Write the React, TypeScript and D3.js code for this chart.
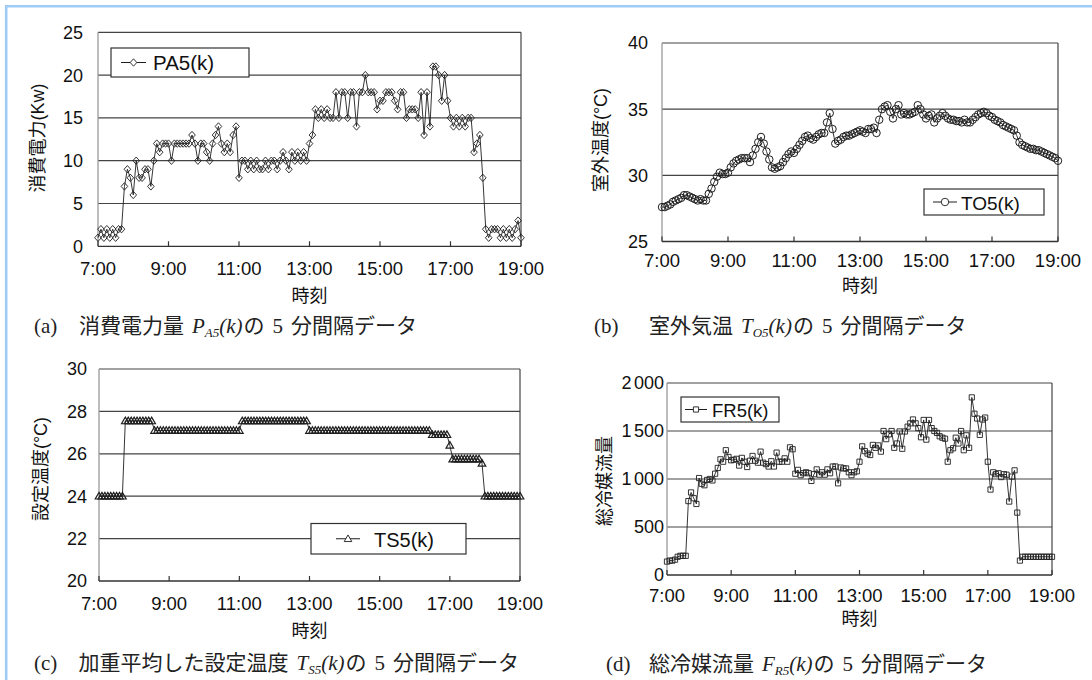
import React from 'react';
import * as d3 from 'd3';

// 5-minute samples, 7:00 .. 19:00 (145 points each)
const hourTicks = [7, 9, 11, 13, 15, 17, 19];

const pa5 = [
  1, 2, 1, 2, 1, 2, 1, 2, 2, 7, 9, 8,
  6, 10, 8, 8, 9, 9, 7, 10, 12, 11, 12, 12,
  12, 10, 12, 12, 12, 12, 12, 12, 13, 12, 10, 12,
  12, 11, 10, 12, 13, 14, 12, 11, 12, 11, 13, 14,
  8, 10, 10, 9, 10, 9, 10, 9, 9, 10, 9, 10,
  10, 9, 10, 11, 10, 9, 11, 10, 11, 10, 11, 10,
  12, 13, 16, 15, 16, 15, 16, 15, 15, 18, 15, 18,
  18, 15, 18, 18, 14, 18, 18, 20, 18, 18, 18, 16,
  17, 17, 18, 18, 18, 17, 16, 18, 18, 15, 16, 16,
  16, 15, 18, 13, 18, 14, 21, 21, 20, 17, 20, 17,
  15, 14, 15, 14, 15, 14, 15, 15, 11, 12, 13, 8,
  2, 1, 2, 2, 2, 1, 2, 1, 2, 1, 2, 3, 1,
];

const to5 = [
  27.6, 27.6, 27.7, 27.8, 28.0, 28.1, 28.2, 28.3, 28.5, 28.5, 28.4, 28.3,
  28.2, 28.1, 28.2, 28.1, 28.1, 28.6, 29.0, 29.5, 29.9, 30.2, 30.1, 30.1,
  30.2, 30.6, 30.9, 31.1, 31.2, 31.3, 31.3, 31.3, 31.0, 31.5, 32.0, 32.5,
  32.9, 32.4, 31.8, 31.2, 30.6, 30.5, 30.6, 30.7, 31.0, 31.3, 31.6, 31.8,
  31.7, 32.0, 32.3, 32.6, 32.9, 33.0, 32.8, 32.7, 32.9, 33.1, 33.2, 33.2,
  34.0, 34.7, 33.5, 32.4, 32.6, 32.7, 32.9, 33.0, 33.0, 33.1, 33.2, 33.3,
  33.4, 33.3, 33.2, 33.5, 33.5, 33.6, 33.2, 34.2, 35.0, 35.2, 35.3, 34.8,
  34.3, 35.0, 35.3, 34.6, 34.7, 34.6, 34.6, 34.7, 34.8, 35.3, 35.0, 34.6,
  34.3, 34.5, 34.6, 34.0, 34.3, 34.5, 34.7, 34.5, 34.3, 34.2, 34.2, 34.1,
  34.1, 34.0, 34.2, 34.0, 34.0, 34.2, 34.4, 34.6, 34.7, 34.8, 34.7, 34.5,
  34.4, 34.2, 34.1, 34.0, 33.8, 33.7, 33.6, 33.5, 33.4, 33.0, 32.5, 32.3,
  32.2, 32.1, 32.0, 32.0, 31.9, 31.9, 31.8, 31.7, 31.6, 31.5, 31.4, 31.3, 31.1,
];

const ts5 = [
  24, 24, 24, 24, 24, 24, 24, 24, 24, 27.55, 27.55, 27.55,
  27.55, 27.55, 27.55, 27.55, 27.55, 27.55, 27.55, 27.1, 27.1, 27.1, 27.1, 27.1,
  27.1, 27.1, 27.1, 27.1, 27.1, 27.1, 27.1, 27.1, 27.1, 27.1, 27.1, 27.1,
  27.1, 27.1, 27.1, 27.1, 27.1, 27.1, 27.1, 27.1, 27.1, 27.1, 27.1, 27.1,
  27.1, 27.55, 27.55, 27.55, 27.55, 27.55, 27.55, 27.55, 27.55, 27.55, 27.55, 27.55,
  27.55, 27.55, 27.55, 27.55, 27.55, 27.55, 27.55, 27.55, 27.55, 27.55, 27.55, 27.55,
  27.1, 27.1, 27.1, 27.1, 27.1, 27.1, 27.1, 27.1, 27.1, 27.1, 27.1, 27.1,
  27.1, 27.1, 27.1, 27.1, 27.1, 27.1, 27.1, 27.1, 27.1, 27.1, 27.1, 27.1,
  27.1, 27.1, 27.1, 27.1, 27.1, 27.1, 27.1, 27.1, 27.1, 27.1, 27.1, 27.1,
  27.1, 27.1, 27.1, 27.1, 27.1, 27.1, 26.9, 26.9, 26.9, 26.9, 26.9, 26.9,
  26.4, 25.75, 25.75, 25.75, 25.75, 25.75, 25.75, 25.75, 25.75, 25.75, 25.75, 25.55,
  24, 24, 24, 24, 24, 24, 24, 24, 24, 24, 24, 24, 24,
];

const fr5 = [
  140, 150, 150, 160, 190, 200, 200, 200, 770, 860, 800, 740,
  1010, 950, 935, 990, 1000, 985, 1055, 1115, 1205, 1180, 1300, 1230,
  1195, 1200, 1210, 1140, 1220, 1180, 1125, 1190, 1240, 1190, 1170, 1285,
  1170, 1155, 1130, 1185, 1130, 1275, 1180, 1180, 1215, 1180, 1330, 1310,
  1055, 1095, 1040, 1060, 1070, 1060, 980, 1050, 1100, 1045, 1070, 1045,
  1100, 1060, 1130, 1130, 955, 1120, 1110, 1110, 1070, 1040, 1070, 1080,
  1180, 1340, 1290, 1265, 1250, 1355, 1325, 1350, 1285, 1500, 1415, 1465,
  1500, 1325, 1370, 1495, 1315, 1495, 1545, 1580, 1620, 1580, 1530, 1435,
  1615, 1410, 1615, 1530, 1500, 1480, 1445, 1430, 1420, 1180, 1300, 1320,
  1430, 1370, 1500, 1300, 1455, 1325, 1850, 1680, 1630, 1460, 1620, 1640,
  1180, 890, 1070, 1050, 1060, 1020, 1050, 1045, 765, 1025, 1090, 650,
  150, 190, 190, 190, 190, 190, 190, 190, 190, 190, 190, 190, 190,
];

const paTicks = [0, 5, 10, 15, 20, 25];
const toTicks = [25, 30, 35, 40];
const tsTicks = [20, 22, 24, 26, 28, 30];
const frTicks = [0, 500, 1000, 1500, 2000];

const SANS = "'Liberation Sans', Arial, 'Noto Sans CJK JP', sans-serif";
const SERIF = "'Liberation Serif', 'Times New Roman', 'Noto Sans CJK JP', serif";
const INK = '#1e1e1e';

const markers: Record<string, string> = {
  diamond: 'M0,-3.7L3.3,0L0,3.7L-3.3,0Z',
  circle: d3.symbol(d3.symbolCircle, 44)() as string,
  triangle: 'M0,-3.8L3.8,2.8L-3.8,2.8Z',
  square: 'M-2.6,-2.6h5.2v5.2h-5.2Z',
};

const fmtPlain = (v: number) => [String(v)];
const fmtSpaced = (v: number) =>
  v >= 1000 ? [String(Math.floor(v / 1000)), String(v % 1000).padStart(3, '0')] : [String(v)];

type Legend = { x: number; y: number; w: number; h: number; label: string; size: number; lx0: number; lx1: number; tx: number; base: number };
type Cap = { label: string; lx: number; tx: number; base: number; pre: string; sym: string; sub: string };

type Cfg = {
  left: number; right: number; top: number; bottom: number;
  domain: [number, number]; ticks: number[]; values: number[];
  fmt: (v: number) => string[];
  marker: string; mw: number; yTitle: string; titleX: number; titleY: number;
  labelEnd: number; xLabelBase: number; xTitleBase: number;
  legend: Legend; cap: Cap;
};

const Panel = ({ c }: { c: Cfg }) => {
  const x = d3.scaleLinear().domain([7 * 60, 19 * 60]).range([c.left, c.right]);
  const y = d3.scaleLinear().domain(c.domain).range([c.bottom, c.top]);
  const t = (i: number) => 7 * 60 + 5 * i;
  const path = d3.line<number>().x((_, i) => x(t(i))).y(d => y(d))(c.values) as string;
  const lg = c.legend;
  const midX = (c.left + c.right) / 2;

  return (
    <g>
      {/* gridlines */}
      {c.ticks.filter(v => v !== c.domain[0]).map(v => (
        <line key={'g' + v} x1={c.left} x2={c.right} y1={y(v)} y2={y(v)} stroke="#444" strokeWidth={1.2} />
      ))}
      <line x1={c.right} x2={c.right} y1={c.top} y2={c.bottom} stroke="#444" strokeWidth={1.2} />
      <line x1={c.left} x2={c.left} y1={c.top} y2={c.bottom} stroke="#9a9a9a" strokeWidth={1.3} />
      <line x1={c.left} x2={c.right} y1={c.bottom} y2={c.bottom} stroke="#333" strokeWidth={1.3} />
      {hourTicks.map(h => (
        <line key={'t' + h} x1={x(h * 60)} x2={x(h * 60)} y1={c.bottom} y2={c.bottom - 5} stroke="#333" strokeWidth={1.2} />
      ))}

      {/* y tick labels */}
      {c.ticks.map(v => {
        const parts = c.fmt(v);
        return (
          <text key={'y' + v} x={c.labelEnd} y={y(v)} dy="0.36em" textAnchor="end" fontSize={18} fontFamily={SANS} fill="#111">
            {parts[0]}{parts[1] && <tspan dx={2.5}>{parts[1]}</tspan>}
          </text>
        );
      })}
      {/* x tick labels */}
      {hourTicks.map(h => (
        <text key={'x' + h} x={x(h * 60)} y={c.xLabelBase} textAnchor="middle" fontSize={18.5} fontFamily={SANS} fill="#111">
          {`${h}:00`}
        </text>
      ))}
      <text x={midX} y={c.xTitleBase} textAnchor="middle" fontSize={18} fontFamily={SANS} fill="#111">時刻</text>
      <text transform={`translate(${c.titleX},${c.titleY}) rotate(-90)`} textAnchor="middle" dy="0.35em" fontSize={18} fontFamily={SANS} fill="#111">
        {c.yTitle}
      </text>

      {/* series */}
      <path d={path} fill="none" stroke={INK} strokeWidth={0.9} />
      {c.values.map((d, i) => (
        <path key={i} d={markers[c.marker]} transform={`translate(${x(t(i))},${y(d)})`} fill="none" stroke={INK} strokeWidth={c.mw} />
      ))}

      {/* legend */}
      <rect x={lg.x} y={lg.y} width={lg.w} height={lg.h} fill="#fff" stroke="#333" strokeWidth={1.2} />
      <line x1={lg.lx0} x2={lg.lx1} y1={lg.y + lg.h / 2} y2={lg.y + lg.h / 2} stroke={INK} strokeWidth={1} />
      <path d={markers[c.marker]} transform={`translate(${(lg.lx0 + lg.lx1) / 2},${lg.y + lg.h / 2})`} fill="#fff" stroke={INK} strokeWidth={0.9} />
      <text x={lg.tx} y={lg.base} fontSize={lg.size} fontFamily={SANS} fill="#111">{lg.label}</text>

      {/* caption */}
      <text x={c.cap.lx} y={c.cap.base} fontSize={21} fontFamily={SERIF} fill="#222">{c.cap.label}</text>
      <text x={c.cap.tx} y={c.cap.base} fontSize={21} fontFamily={SERIF} fill="#222">
        <tspan>{c.cap.pre}</tspan>
        <tspan dx={8} fontStyle="italic">{c.cap.sym}</tspan>
        <tspan fontStyle="italic" fontSize={13} dy={4}>{c.cap.sub}</tspan>
        <tspan fontStyle="italic" dy={-4}>(k)</tspan>
        <tspan dx={1}>の</tspan>
        <tspan dx={8}>5</tspan>
        <tspan dx={8}>分間隔データ</tspan>
      </text>
    </g>
  );
};

const panels: Cfg[] = [
  {
    left: 98, right: 521, top: 32.3, bottom: 246.3, domain: [0, 25], ticks: paTicks, values: pa5, fmt: fmtPlain,
    marker: 'diamond', mw: 0.9, yTitle: '消費電力(Kw)', titleX: 38, titleY: 138, labelEnd: 83, xLabelBase: 275, xTitleBase: 302,
    legend: { x: 111, y: 48, w: 138, h: 29, label: 'PA5(k)', size: 20.5, lx0: 121, lx1: 146, tx: 153, base: 70 },
    cap: { label: '(a)', lx: 34, tx: 79, base: 333, pre: '消費電力量', sym: 'P', sub: 'A5' },
  },
  {
    left: 662, right: 1058, top: 43, bottom: 241.5, domain: [25, 40], ticks: toTicks, values: to5, fmt: fmtPlain,
    marker: 'circle', mw: 1, yTitle: '室外温度(°C)', titleX: 601, titleY: 140, labelEnd: 648, xLabelBase: 266.5, xTitleBase: 292,
    legend: { x: 924, y: 189, w: 120, h: 26, label: 'TO5(k)', size: 19, lx0: 933, lx1: 957, tx: 961, base: 210 },
    cap: { label: '(b)', lx: 594, tx: 649, base: 333, pre: '室外気温', sym: 'T', sub: 'O5' },
  },
  {
    left: 99, right: 520, top: 369, bottom: 581, domain: [20, 30], ticks: tsTicks, values: ts5, fmt: fmtPlain,
    marker: 'triangle', mw: 1.2, yTitle: '設定温度(°C)', titleX: 41, titleY: 469, labelEnd: 87, xLabelBase: 609.5, xTitleBase: 637,
    legend: { x: 311, y: 523.5, w: 155, h: 30.5, label: 'TS5(k)', size: 20, lx0: 336, lx1: 360, tx: 374, base: 547 },
    cap: { label: '(c)', lx: 34, tx: 78.5, base: 670, pre: '加重平均した設定温度', sym: 'T', sub: 'S5' },
  },
  {
    left: 667, right: 1052, top: 383, bottom: 575, domain: [0, 2000], ticks: frTicks, values: fr5, fmt: fmtSpaced,
    marker: 'square', mw: 0.9, yTitle: '総冷媒流量', titleX: 605, titleY: 481, labelEnd: 664, xLabelBase: 601.5, xTitleBase: 625,
    legend: { x: 681, y: 397, w: 98, h: 25, label: 'FR5(k)', size: 18.5, lx0: 685, lx1: 707, tx: 712, base: 416.5 },
    cap: { label: '(d)', lx: 606, tx: 649, base: 671, pre: '総冷媒流量', sym: 'F', sub: 'R5' },
  },
];

export default function App() {
  return (
    <div style={{ position: 'absolute', left: 0, top: 0 }}>
      <svg width={1092} height={680} style={{ display: 'block', background: '#fff' }}>
        <rect x={0} y={0} width={1092} height={680} fill="#fff" />
        <line x1={5} x2={1092} y1={6.2} y2={6.2} stroke="#9fcbf7" strokeWidth={2.6} />
        <line x1={6.2} x2={6.2} y1={5} y2={680} stroke="#9fcbf7" strokeWidth={2.6} />
        {panels.map((c, i) => <Panel key={i} c={c} />)}
      </svg>
    </div>
  );
}
